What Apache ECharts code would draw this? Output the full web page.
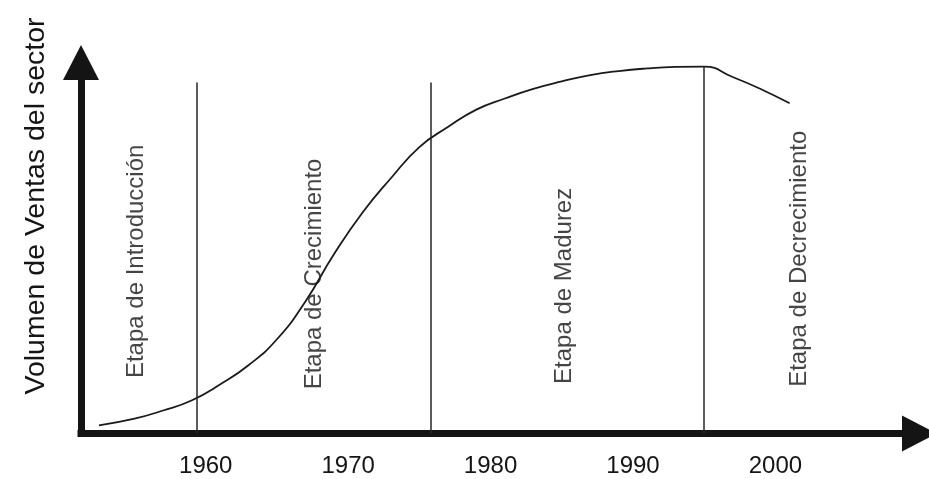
<!DOCTYPE html>
<html>
<head>
<meta charset="utf-8">
<script src="https://cdn.jsdelivr.net/npm/echarts@6/dist/echarts.min.js"></script>
<style>
  html, body { margin: 0; padding: 0; background: #ffffff; }
  #chart { width: 929px; height: 479px; }
</style>
</head>
<body>
<div id="chart"></div>
<script>
// Industry life cycle: sales volume of the sector over the years
const years = [1952.5, 1955, 1957, 1959, 1961, 1963, 1965, 1967, 1969, 1971, 1973, 1975,
               1977, 1979, 1981, 1983, 1985, 1987, 1989, 1991, 1993, 1995, 1997, 1999, 2001];
const salesVolume = [2.2, 4.0, 6.2, 8.9, 13.2, 18.4, 25.4, 35.6, 48.3, 59.5, 68.8, 77.2,
                     82.6, 87.3, 90.3, 92.9, 94.9, 96.6, 97.7, 98.4, 98.8, 98.9, 96.1, 92.8, 89.0];
const tickYears = [1960, 1970, 1980, 1990, 2000];
const stageNames = ['Etapa de Introducción', 'Etapa de Crecimiento', 'Etapa de Madurez', 'Etapa de Decrecimiento'];
const stageBoundaries = [1959.4, 1975.8, 1995];
const boundaryTops = [94.6, 94.6, 98.9];
const axisTitle = 'Volumen de Ventas del sector';

// Where each stage name sits (year, height on the volume scale)
const stageLabelAt = [[1955.1, 46.4], [1967.6, 43.0], [1985.2, 39.8], [2001.7, 47.1]];

const FONT = '"Liberation Sans", Arial, sans-serif';
const INK = '#141414';
const TEXT = '#151515';

const axisLineStyle = {
  show: true,
  onZero: false,
  symbol: ['none', 'triangle'],
  symbolSize: [36, 35],
  lineStyle: { color: INK, width: 7, cap: 'square' }
};

const chart = echarts.init(document.getElementById('chart'), null, { renderer: 'canvas' });

chart.setOption({
  animation: false,
  backgroundColor: '#ffffff',
  grid: { left: 81, right: 9.5, top: 62.5, bottom: 45.5, containLabel: false, outerBoundsMode: 'none' },
  xAxis: {
    type: 'value',
    min: 1951.24,
    max: 2010.12,
    axisLine: axisLineStyle,
    axisTick: { show: false },
    splitLine: { show: false },
    axisLabel: {
      customValues: tickYears,
      formatter: v => String(v),
      fontFamily: FONT,
      fontSize: 24,
      color: TEXT,
      margin: 21
    }
  },
  yAxis: {
    type: 'value',
    min: 0,
    max: 100,
    axisLine: axisLineStyle,
    axisTick: { show: false },
    splitLine: { show: false },
    axisLabel: { show: false }
  },
  graphic: [{
    type: 'text',
    x: 36,
    y: 206,
    rotation: Math.PI / 2,
    style: {
      text: axisTitle,
      font: '28.5px ' + FONT,
      fill: TEXT,
      align: 'center',
      verticalAlign: 'middle'
    }
  }],
  series: [
    {
      type: 'line',
      data: years.map((y, i) => [y, salesVolume[i]]),
      smooth: 0.5,
      showSymbol: false,
      silent: true,
      lineStyle: { color: '#1a1a1a', width: 1.8 },
      markLine: {
        silent: true,
        symbol: ['none', 'none'],
        label: { show: false },
        lineStyle: { color: '#262626', width: 1.5, type: 'solid' },
        data: stageBoundaries.map((x, i) => [{ coord: [x, 0] }, { coord: [x, boundaryTops[i]] }])
      }
    },
    {
      type: 'scatter',
      symbolSize: 0,
      silent: true,
      data: stageLabelAt.map((p, i) => ({ value: p, name: stageNames[i] })),
      label: {
        show: true,
        position: 'inside',
        formatter: '{b}',
        rotate: 90,
        align: 'center',
        verticalAlign: 'middle',
        fontFamily: FONT,
        fontSize: 24,
        color: TEXT
      }
    }
  ]
});
</script>
</body>
</html>
